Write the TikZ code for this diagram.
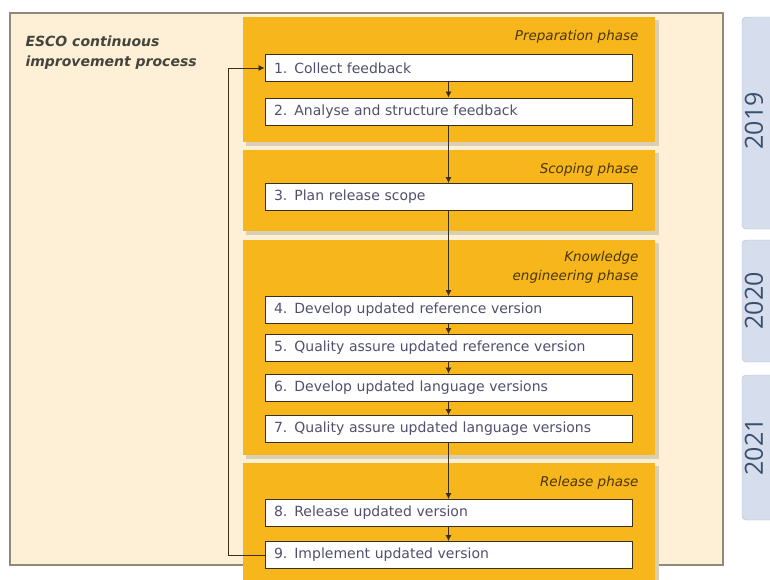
\documentclass[tikz,border=0pt]{standalone}
\usepackage{fontspec}
\setmainfont{DejaVu Sans}
\newfontfamily\yearfont{Open Sans}
\usetikzlibrary{arrows.meta}

\definecolor{esccream}{HTML}{FDF0D6}
\definecolor{escorange}{HTML}{F7B61C}
\definecolor{escshadow}{HTML}{D9CFB4}
\definecolor{escframe}{HTML}{8E8A7A}
\definecolor{esctext}{HTML}{50506C}
\definecolor{esctitle}{HTML}{45443C}
\definecolor{escphase}{HTML}{4A3600}
\definecolor{escline}{HTML}{3B2E1A}
\definecolor{escyear}{HTML}{D6DEEE}
\definecolor{escyeartext}{HTML}{3A506E}

\begin{document}
\begin{tikzpicture}
  [x=1pt,y=-1pt,
   every node/.style={font=\fontsize{14}{17}\selectfont},
   stepbox/.style={draw=escline,fill=white,line width=0.9pt,
     minimum width=367pt,minimum height=27pt,text width=349pt,
     inner xsep=9pt,inner ysep=2pt,align=left,text=esctext},
   phaselabel/.style={anchor=east,align=right,text=escphase,
     font=\fontsize{13.5}{19}\selectfont\itshape},
   yearbox/.style={fill=escyear,draw=escyear!85!black,rounded corners=4pt},
   yearlabel/.style={rotate=90,text=escyeartext,inner sep=0pt,
     font=\yearfont\fontsize{25}{25}\selectfont},
   flow/.style={draw=escline,line width=0.8pt,-{Latex[length=6pt,width=6pt]}}]

  \useasboundingbox (0,0) rectangle (770,579);
  \clip (0,0) rectangle (770,579);
  \fill[white] (0,0) rectangle (770,579);

  % outer frame
  \draw[escframe,fill=esccream,line width=1.2pt] (10,13) rectangle (723,565);
  \node[anchor=north west,align=left,text=esctitle,
        font=\fontsize{14}{20}\selectfont\bfseries\itshape]
    (title) at (22,32) {ESCO continuous\\improvement process};

  % phase panels
  \fill[escshadow] (246,20) rectangle (659,146);
  \fill[escorange] (243,17) rectangle (655,142);
  \fill[escshadow] (246,153) rectangle (659,235);
  \fill[escorange] (243,150) rectangle (655,231);
  \fill[escshadow] (246,243) rectangle (659,459);
  \fill[escorange] (243,240) rectangle (655,455);
  \fill[escshadow] (246,466) rectangle (659,585);
  \fill[escorange] (243,463) rectangle (655,585);

  \node[phaselabel] (prep) at (642,37) {Preparation phase};
  \node[phaselabel] (scope) at (642,170) {Scoping phase};
  \node[phaselabel] (know) at (642,267) {Knowledge\\engineering phase};
  \node[phaselabel] (rel) at (642,483) {Release phase};

  % steps
  \node[stepbox] (s1) at (448.5,68) {1. Collect feedback};
  \node[stepbox] (s2) at (448.5,111.5) {2. Analyse and structure feedback};
  \node[stepbox] (s3) at (448.5,197) {3. Plan release scope};
  \node[stepbox] (s4) at (448.5,310) {4. Develop updated reference version};
  \node[stepbox] (s5) at (448.5,348) {5. Quality assure updated reference version};
  \node[stepbox] (s6) at (448.5,387.5) {6. Develop updated language versions};
  \node[stepbox] (s7) at (448.5,429) {7. Quality assure updated language versions};
  \node[stepbox] (s8) at (448.5,513) {8. Release updated version};
  \node[stepbox] (s9) at (448.5,555) {9. Implement updated version};

  \draw[flow] (s1) -- (s2);
  \draw[flow] (s2) -- (s3);
  \draw[flow] (s3) -- (s4);
  \draw[flow] (s4) -- (s5);
  \draw[flow] (s5) -- (s6);
  \draw[flow] (s6) -- (s7);
  \draw[flow] (s7) -- (s8);
  \draw[flow] (s8) -- (s9);

  % feedback loop
  \coordinate (loop) at (228,0);
  \draw[flow] (s9.west) -| (loop |- s1.west) -- (s1.west);

  % years
  \draw[yearbox] (742,17) rectangle (785,229);
  \draw[yearbox] (742,240) rectangle (785,362);
  \draw[yearbox] (742,375) rectangle (785,520);
  \node[yearlabel] (y2019) at (754,121) {2019};
  \node[yearlabel] (y2020) at (754,301) {2020};
  \node[yearlabel] (y2021) at (754,447) {2021};
\end{tikzpicture}
\end{document}
